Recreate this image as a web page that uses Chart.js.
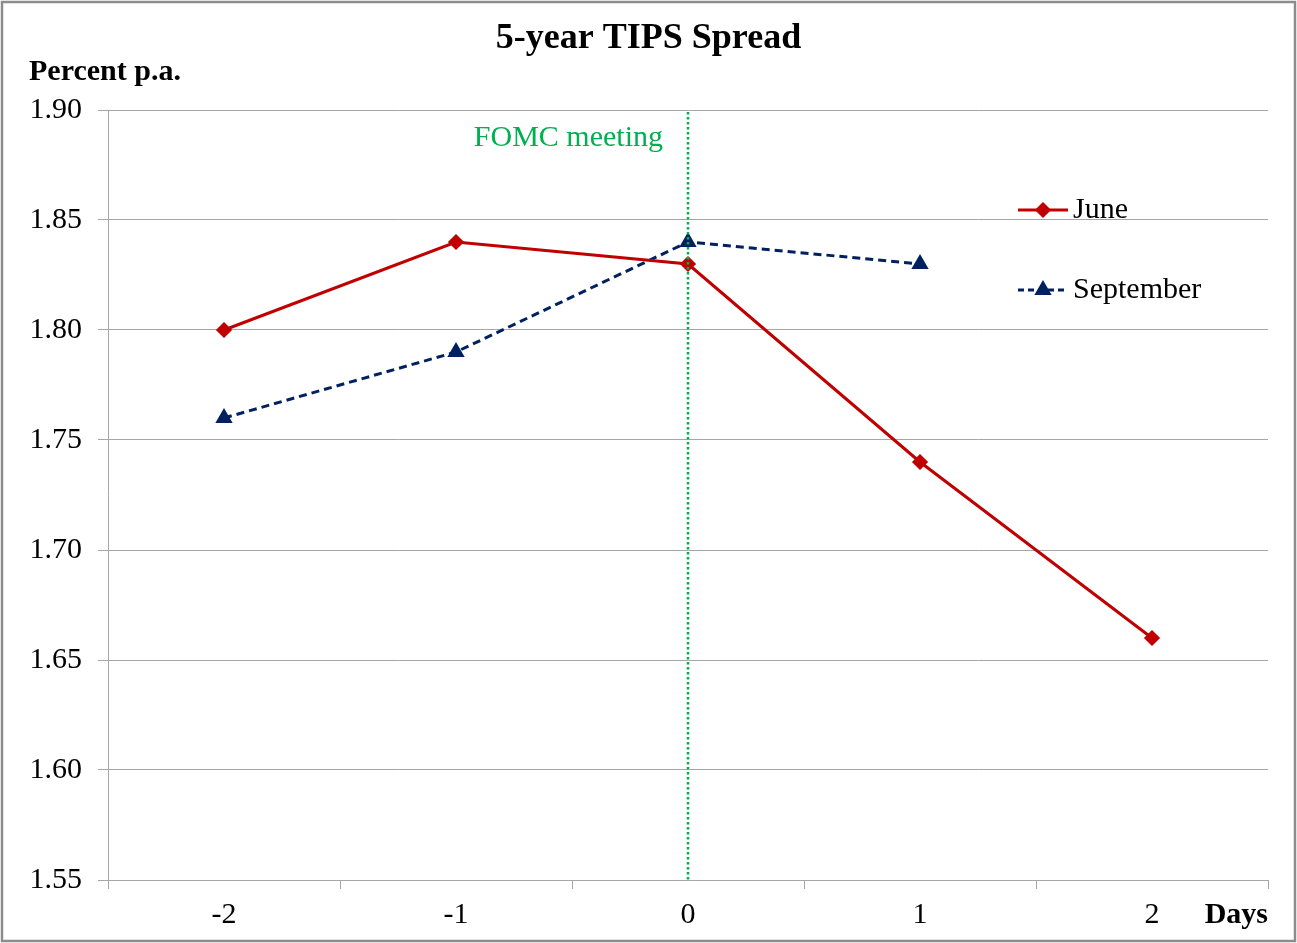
<!DOCTYPE html>
<html>
<head>
<meta charset="utf-8">
<script src="https://cdn.jsdelivr.net/npm/chart.js@4"></script>
<style>
  html, body { margin: 0; padding: 0; background: #fff; }
  #wrap { width: 1297px; height: 943px; position: relative; }
</style>
</head>
<body>
<div id="wrap"><canvas id="c" width="1297" height="943"></canvas></div>
<script>
const days = ['-2', '-1', '0', '1', '2'];
const june = [1.80, 1.84, 1.83, 1.74, 1.66];
const september = [1.76, 1.79, 1.84, 1.83, null];
const yTicks = [1.55, 1.60, 1.65, 1.70, 1.75, 1.80, 1.85, 1.90];
const eventDay = '0';
const eventLabel = 'FOMC meeting';
const titleText = '5-year TIPS Spread';
const yTitle = 'Percent p.a.';
const xTitle = 'Days';

const FONT = '"Liberation Serif", "Times New Roman", serif';
const RED = '#C00000';
const NAVY = '#002060';
const GREEN = '#00B050';
const GRID = '#A6A6A6';

const extras = {
  id: 'extras',
  beforeDraw(chart) {
    const ctx = chart.ctx;
    ctx.save();
    ctx.fillStyle = '#fff';
    ctx.fillRect(0, 0, chart.width, chart.height);
    ctx.restore();
  },
  afterDatasetsDraw(chart) {
    const ctx = chart.ctx;
    const ca = chart.chartArea;
    const x = chart.scales.x.getPixelForValue(days.indexOf(eventDay));
    ctx.save();
    ctx.strokeStyle = GREEN;
    ctx.lineWidth = 2.5;
    ctx.setLineDash([2.5, 2.5]);
    ctx.beginPath();
    ctx.moveTo(x, ca.top + 2);
    ctx.lineTo(x, ca.bottom);
    ctx.stroke();
    ctx.setLineDash([]);
    ctx.fillStyle = GREEN;
    ctx.font = '30px ' + FONT;
    ctx.textAlign = 'right';
    ctx.textBaseline = 'middle';
    ctx.fillText(eventLabel, x - 25, ca.top + 28);
    ctx.restore();
  },
  afterDraw(chart) {
    const ctx = chart.ctx;
    const ca = chart.chartArea;
    ctx.save();
    // border
    ctx.strokeStyle = '#8C8C8C';
    ctx.lineWidth = 2.5;
    ctx.strokeRect(2, 2, chart.width - 4, chart.height - 4);
    // title
    ctx.fillStyle = '#000';
    ctx.font = 'bold 36px ' + FONT;
    ctx.textAlign = 'center';
    ctx.textBaseline = 'middle';
    ctx.fillText(titleText, chart.width / 2, 39);
    // y title
    ctx.font = 'bold 30px ' + FONT;
    ctx.textAlign = 'left';
    ctx.fillText(yTitle, 29, 72);
    // x title
    ctx.textAlign = 'right';
    ctx.fillText(xTitle, ca.right, 915);
    // legend
    const items = [
      {label: 'June', color: RED, dash: [], style: 'rectRot', r: 6},
      {label: 'September', color: NAVY, dash: [6, 4], style: 'triangle', r: 7}
    ];
    items.forEach((it, i) => {
      const y = ca.top + 100 + i * 80;
      const x0 = ca.right - 250, x1 = x0 + 50;
      ctx.strokeStyle = it.color;
      ctx.lineWidth = 3;
      ctx.setLineDash(it.dash);
      ctx.beginPath();
      ctx.moveTo(x0, y);
      ctx.lineTo(x1, y);
      ctx.stroke();
      ctx.setLineDash([]);
      Chart.helpers.drawPoint(ctx, {pointStyle: it.style, radius: it.r, borderWidth: 1}, (x0 + x1) / 2, y);
      ctx.fillStyle = it.color;
      ctx.fill();
      ctx.fillStyle = '#000';
      ctx.font = '30px ' + FONT;
      ctx.textAlign = 'left';
      ctx.textBaseline = 'middle';
      ctx.fillText(it.label, x1 + 5, y);
    });
    ctx.restore();
  }
};

new Chart(document.getElementById('c'), {
  type: 'line',
  data: {
    labels: days,
    datasets: [
      {
        label: 'June',
        data: june,
        borderColor: RED,
        backgroundColor: RED,
        borderWidth: 3,
        pointStyle: 'rectRot',
        pointRadius: 6,
        pointHoverRadius: 6,
        tension: 0
      },
      {
        label: 'September',
        data: september,
        borderColor: NAVY,
        backgroundColor: NAVY,
        borderWidth: 3,
        borderDash: [8, 5],
        pointStyle: 'triangle',
        pointRadius: 7,
        pointHoverRadius: 7,
        spanGaps: false,
        tension: 0
      }
    ]
  },
  options: {
    responsive: false,
    animation: false,
    layout: { padding: { top: 110, right: 29, left: 0, bottom: 0 } },
    plugins: {
      legend: { display: false },
      title: { display: false },
      tooltip: { enabled: false }
    },
    scales: {
      x: {
        type: 'category',
        offset: true,
        grid: {
          offset: true,
          drawOnChartArea: false,
          drawTicks: true,
          tickLength: 9,
          color: GRID,
          lineWidth: 1
        },
        border: { display: true, color: GRID, width: 1 },
        ticks: {
          color: '#000',
          font: { family: FONT, size: 30 },
          padding: 8,
          maxRotation: 0
        },
        afterFit(scale) { scale.height = 63; }
      },
      y: {
        min: 1.55,
        max: 1.90,
        afterBuildTicks(scale) { scale.ticks = yTicks.map(v => ({value: v})); },
        grid: {
          color: GRID,
          lineWidth: 1,
          drawTicks: true,
          tickLength: 10
        },
        border: { display: true, color: GRID, width: 1 },
        ticks: {
          color: '#000',
          font: { family: FONT, size: 30 },
          padding: 16,
          callback: v => Number(v).toFixed(2)
        },
        afterFit(scale) { scale.width = 108; }
      }
    }
  },
  plugins: [extras]
});
</script>
</body>
</html>
